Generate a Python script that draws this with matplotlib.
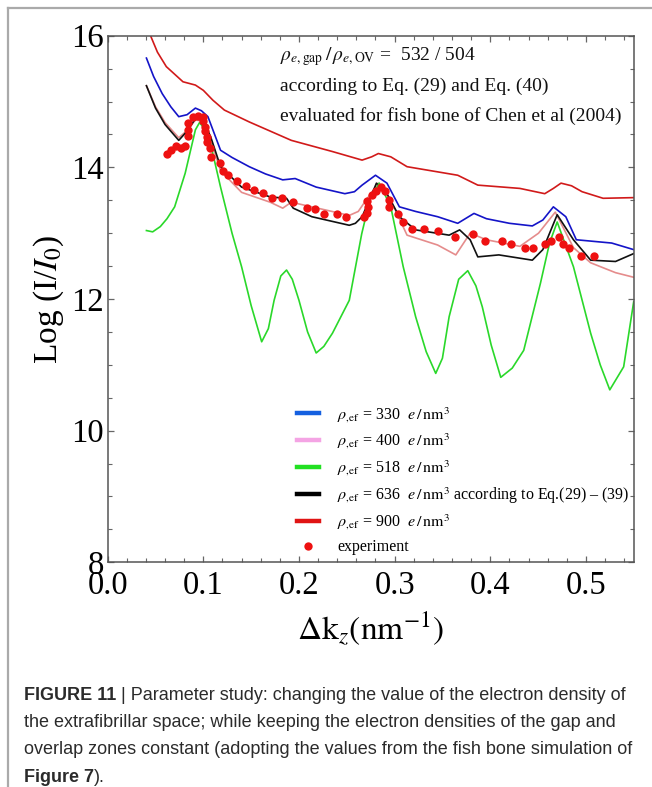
import matplotlib
matplotlib.use("Agg")
import matplotlib.pyplot as plt
from matplotlib.lines import Line2D
from matplotlib.ticker import MultipleLocator

# ---------------- data ----------------
x_900 = [0.040, 0.0448, 0.052, 0.0613, 0.0787, 0.0917, 0.100, 0.110, 0.122, 0.148, 0.192, 0.235,
         0.266, 0.276, 0.283, 0.296, 0.313, 0.366, 0.387, 0.431, 0.457, 0.466, 0.474, 0.485,
         0.496, 0.518, 0.55]
y_900 = [16.2, 16.0, 15.75, 15.53, 15.30, 15.25, 15.17, 15.02, 14.87, 14.69, 14.41, 14.24,
         14.11, 14.16, 14.21, 14.16, 14.01, 13.88, 13.73, 13.68, 13.60, 13.68, 13.76, 13.72,
         13.63, 13.53, 13.54]

x_330 = [0.0405, 0.048, 0.057, 0.066, 0.0743, 0.083, 0.0917, 0.098, 0.1048, 0.118, 0.13, 0.148,
         0.165, 0.183, 0.196, 0.218, 0.248, 0.258, 0.266, 0.280, 0.292, 0.305, 0.322, 0.345,
         0.366, 0.383, 0.396, 0.420, 0.444, 0.455, 0.466, 0.479, 0.490, 0.527, 0.55]
y_330 = [15.66, 15.38, 15.12, 14.92, 14.77, 14.80, 14.90, 14.86, 14.77, 14.26, 14.15, 14.01,
         13.90, 13.81, 13.83, 13.70, 13.60, 13.63, 13.73, 13.88, 13.76, 13.40, 13.33, 13.25,
         13.15, 13.30, 13.22, 13.15, 13.11, 13.20, 13.40, 13.25, 12.90, 12.85, 12.75]

x_636 = [0.0405, 0.05, 0.06, 0.0743, 0.083, 0.0917, 0.100, 0.108, 0.118, 0.140, 0.170, 0.187,
         0.194, 0.2135, 0.2526, 0.259, 0.266, 0.275, 0.281, 0.292, 0.305, 0.322, 0.357, 0.368,
         0.379, 0.387, 0.409, 0.444, 0.455, 0.470, 0.487, 0.505, 0.531, 0.55]
y_636 = [15.24, 14.90, 14.65, 14.41, 14.55, 14.74, 14.72, 14.45, 14.01, 13.70, 13.55, 13.53,
         13.38, 13.25, 13.12, 13.15, 13.25, 13.55, 13.76, 13.60, 13.25, 13.05, 12.97, 13.05,
         12.90, 12.64, 12.67, 12.59, 12.75, 13.28, 12.90, 12.59, 12.57, 12.69]

x_400 = [0.0405, 0.05, 0.06, 0.0743, 0.083, 0.0917, 0.100, 0.108, 0.118, 0.140, 0.170, 0.183,
         0.192, 0.2135, 0.2526, 0.262, 0.27, 0.283, 0.296, 0.313, 0.345, 0.364, 0.379, 0.396,
         0.431, 0.4505, 0.468, 0.487, 0.505, 0.531, 0.55]
y_400 = [15.24, 14.92, 14.68, 14.45, 14.56, 14.72, 14.70, 14.40, 13.95, 13.62, 13.47, 13.38,
         13.47, 13.40, 13.27, 13.33, 13.50, 13.76, 13.50, 12.97, 12.82, 12.67, 13.00, 12.90,
         12.80, 13.00, 13.32, 12.78, 12.55, 12.40, 12.33]

x_518 = [0.0405, 0.047, 0.055, 0.062, 0.070, 0.081, 0.0917, 0.096, 0.105, 0.118, 0.130, 0.140,
         0.150, 0.161, 0.168, 0.174, 0.181, 0.187, 0.193, 0.200, 0.209, 0.218, 0.226, 0.235,
         0.2526, 0.2656, 0.274, 0.284, 0.296, 0.309, 0.322, 0.333, 0.343, 0.350, 0.357, 0.367,
         0.3765, 0.385, 0.3917, 0.401, 0.411, 0.423, 0.435, 0.4525, 0.462, 0.470, 0.487, 0.505,
         0.515, 0.525, 0.5395, 0.55]
y_518 = [13.04, 13.02, 13.10, 13.22, 13.40, 13.91, 14.57, 14.68, 14.52, 13.70, 13.00, 12.49,
         11.90, 11.35, 11.55, 11.98, 12.35, 12.44, 12.30, 11.98, 11.50, 11.18, 11.28, 11.48,
         11.98, 12.99, 13.50, 13.76, 13.40, 12.49, 11.73, 11.20, 10.87, 11.10, 11.73, 12.30,
         12.43, 12.20, 11.88, 11.30, 10.81, 10.95, 11.22, 12.24, 12.85, 13.17, 12.49, 11.48,
         11.00, 10.62, 10.97, 11.96]

x_exp = [0.0617, 0.066, 0.0714, 0.0763, 0.0808, 0.0843, 0.0843, 0.0843, 0.0889, 0.0948, 0.0993,
         0.100, 0.1018, 0.102, 0.1035, 0.1035, 0.107, 0.1077, 0.1174, 0.121, 0.126, 0.135, 0.1443,
         0.153, 0.162, 0.1714, 0.182, 0.194, 0.208, 0.2168, 0.226, 0.2394, 0.249, 0.268, 0.2708,
         0.272, 0.2715, 0.2767, 0.2805, 0.2854, 0.290, 0.294, 0.2945, 0.304, 0.309, 0.318, 0.331,
         0.345, 0.3635, 0.3817, 0.395, 0.4126, 0.422, 0.436, 0.445, 0.457, 0.4635, 0.472, 0.4765,
         0.482, 0.4948, 0.509]
y_exp = [14.20, 14.26, 14.32, 14.30, 14.32, 14.48, 14.57, 14.68, 14.76, 14.78, 14.77, 14.70,
         14.62, 14.55, 14.46, 14.38, 14.30, 14.15, 14.06, 13.95, 13.88, 13.80, 13.72, 13.66,
         13.61, 13.54, 13.54, 13.48, 13.39, 13.36, 13.29, 13.29, 13.24, 13.24, 13.31, 13.40,
         13.49, 13.58, 13.64, 13.70, 13.64, 13.50, 13.40, 13.29, 13.17, 13.07, 13.07, 13.04,
         12.94, 12.99, 12.88, 12.88, 12.84, 12.77, 12.77, 12.84, 12.88, 12.94, 12.84, 12.77,
         12.65, 12.65]

legend_labels = [
    r'$\rho_{,\!\mathrm{ef}}$ = 330  $e\,/\,\mathrm{nm}^3$',
    r'$\rho_{,\!\mathrm{ef}}$ = 400  $e\,/\,\mathrm{nm}^3$',
    r'$\rho_{,\!\mathrm{ef}}$ = 518  $e\,/\,\mathrm{nm}^3$',
    r'$\rho_{,\!\mathrm{ef}}$ = 636  $e\,/\,\mathrm{nm}^3$ according to Eq.(29) – (39)',
    r'$\rho_{,\!\mathrm{ef}}$ = 900  $e\,/\,\mathrm{nm}^3$',
    'experiment',
]
annot_lines = [
    r'$\rho_{e,\mathrm{gap}}\,/\,\rho_{e,\mathrm{OV}}$ =  532 / 504',
    'according to Eq. (29) and Eq. (40)',
    'evaluated for fish bone of Chen et al (2004)',
]
xticks = [0.0, 0.1, 0.2, 0.3, 0.4, 0.5]
yticks = [8, 10, 12, 14, 16]

# ---------------- style ----------------
plt.rcParams['font.family'] = ['Liberation Serif', 'DejaVu Serif']
plt.rcParams['mathtext.fontset'] = 'stix'

W, H = 652, 787
fig = plt.figure(figsize=(W / 100, H / 100), dpi=100)
ax = fig.add_axes([107.7 / W, 1 - 562.3 / H, (633.7 - 107.7) / W, (562.3 - 35.7) / H])

lw = 1.2
kw = dict(lw=lw, solid_joinstyle='round')
ax.plot(x_900, y_900, color='#d11a1a', **kw)
ax.plot(x_330, y_330, color='#1414c8', **kw)
ax.plot(x_400, y_400, color='#e58c8c', **kw)
ax.plot(x_636, y_636, color='#111111', **kw)
ax.plot(x_518, y_518, color='#2ad82a', **kw)
ax.plot(x_exp, y_exp, 'o', color='#ee1111', ms=6, mec='none')

ax.set_xlim(0, 0.55)
ax.set_ylim(8, 16)
ax.set_xticks(xticks)
ax.set_xticklabels([f'{v:.1f}' for v in xticks])
ax.set_yticks(yticks)
ax.set_yticklabels([str(v) for v in yticks])
ax.xaxis.set_minor_locator(MultipleLocator(0.02))
ax.yaxis.set_minor_locator(MultipleLocator(0.5))
ax.tick_params(which='both', direction='in', top=True, right=True, color='#666666')
ax.tick_params(which='major', length=4, width=0.9, labelsize=23.5)
ax.tick_params(which='minor', length=3, width=0.8)
ax.tick_params(axis='x', which='major', pad=6)
ax.tick_params(axis='y', which='major', pad=2.5)
for s in ax.spines.values():
    s.set_color('#555555')
    s.set_linewidth(1.1)

ax.set_ylabel(r'Log (I/$I_0$)', fontsize=24, labelpad=4)
ax.set_xlabel(r'$\Delta\mathrm{k}_z(\mathrm{nm}^{-1})$', fontsize=24, labelpad=6)

# annotation text block
annot_y = [57, 86, 116]
for t, yy in zip(annot_lines, annot_y):
    fig.text(280 / W, 1 - yy / H, t, fontsize=14, va='center', ha='left', color='#111111')

# legend with proxy handles
leg_colors = ['#1560e0', '#f4a4e4', '#22e022', '#000000', '#e01414']
handles = [Line2D([0], [0], color=c, lw=3.2) for c in leg_colors]
handles.append(Line2D([0], [0], ls='none', marker='o', color='#ee1111', ms=6, mec='none'))
ax.legend(handles, legend_labels, loc='upper left', bbox_to_anchor=(297 / W, 1 - 405 / H),
          bbox_transform=fig.transFigure, frameon=False, fontsize=11.5, handlelength=1.4,
          handletextpad=1.1, labelspacing=0.45, borderpad=0, borderaxespad=0)

# outer frame (top and left)
fig.add_artist(Line2D([7.5 / W, 7.5 / W], [0, 1 - 7.5 / H], color='#aaaaaa', lw=1.6,
                      transform=fig.transFigure))
fig.add_artist(Line2D([7.5 / W, 1], [1 - 7.5 / H, 1 - 7.5 / H], color='#aaaaaa', lw=1.6,
                      transform=fig.transFigure))

# caption
cap_fs = 13.0
cap_col = '#2b2b2b'
cap_font = ['Liberation Sans', 'DejaVu Sans']
b1 = fig.text(24 / W, 1 - 695 / H, 'FIGURE 11', fontsize=cap_fs, fontweight='bold',
              family=cap_font, color=cap_col, va='center')
ax.annotate(' | Parameter study: changing the value of the electron density of', xy=(1, 0),
            xycoords=b1, va='bottom', ha='left', fontsize=cap_fs, family=cap_font,
            color=cap_col, annotation_clip=False)
fig.text(24 / W, 1 - 722.5 / H,
         'the extrafibrillar space; while keeping the electron densities of the gap and',
         fontsize=cap_fs, family=cap_font, color=cap_col, va='center')
fig.text(24 / W, 1 - 750 / H,
         'overlap zones constant (adopting the values from the fish bone simulation of',
         fontsize=cap_fs, family=cap_font, color=cap_col, va='center')
b4 = fig.text(24 / W, 1 - 777 / H, 'Figure 7', fontsize=cap_fs, fontweight='bold',
              family=cap_font, color=cap_col, va='center')
ax.annotate(').', xy=(1, 0), xycoords=b4, va='bottom', ha='left', fontsize=cap_fs,
            family=cap_font, color=cap_col, annotation_clip=False)

fig.savefig('out.png', dpi=100)
